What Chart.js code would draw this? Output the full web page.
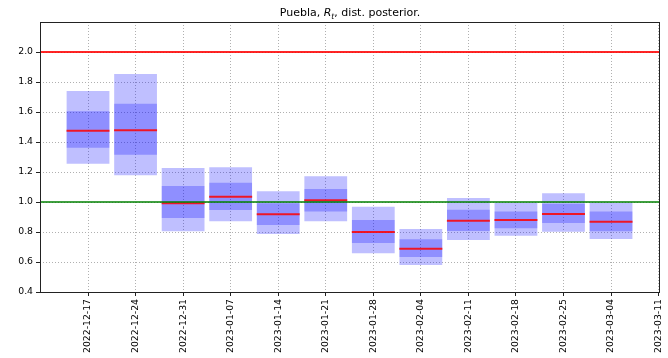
<!DOCTYPE html>
<html>
<head>
<meta charset="utf-8">
<title>Puebla Rt</title>
<script src="https://cdn.jsdelivr.net/npm/chart.js@4/dist/chart.umd.min.js"></script>
<style>
  body { margin: 0; background: #fff; }
  #wrap { width: 668px; height: 358px; }
</style>
</head>
<body>
<div id="wrap"><canvas id="myChart"></canvas></div>
<script>
// semanas (etiquetas del eje x)
const semanas = ['2022-12-17', '2022-12-24', '2022-12-31', '2023-01-07', '2023-01-14',
  '2023-01-21', '2023-01-28', '2023-02-04', '2023-02-11', '2023-02-18', '2023-02-25',
  '2023-03-04', '2023-03-11']

// cuantiles de la posterior de Rt por semana
const q05 = [1.255, 1.178, 0.805, 0.871, 0.787, 0.871, 0.658, 0.580, 0.747, 0.775, 0.802, 0.753]
const q25 = [1.362, 1.315, 0.893, 0.947, 0.847, 0.936, 0.727, 0.633, 0.807, 0.825, 0.860, 0.805]
const q50 = [1.475, 1.478, 0.991, 1.035, 0.918, 1.011, 0.800, 0.689, 0.875, 0.880, 0.920, 0.869]
const q75 = [1.605, 1.655, 1.107, 1.129, 0.991, 1.087, 0.880, 0.751, 0.949, 0.936, 0.989, 0.936]
const q95 = [1.740, 1.853, 1.227, 1.232, 1.071, 1.171, 0.969, 0.820, 1.027, 0.995, 1.058, 0.995]

const yTicks = [0.4, 0.6, 0.8, 1.0, 1.2, 1.4, 1.6, 1.8, 2.0, 2.2]

const xMin = -1.01
const xMax = 12.03

const canvas = document.getElementById('myChart')
const fuente = 'DejaVu Sans'

// titulo con R en italica y subindice t
const titulo = {
    id: 'titulo',
    afterDraw(chart) {
        const ctx = chart.ctx
        const area = chart.chartArea
        const partes = [
            {t: 'Puebla, ', f: `11px "${fuente}"`, dy: 0},
            {t: 'R', f: `italic 11px "${fuente}"`, dy: 0},
            {t: 't', f: `italic 7.7px "${fuente}"`, dy: 2.5},
            {t: ', dist. posterior.', f: `11px "${fuente}"`, dy: 0}
        ]
        ctx.save()
        let ancho = 0
        for (const p of partes) { ctx.font = p.f; ancho += ctx.measureText(p.t).width }
        let x = (area.left + area.right) / 2 - ancho / 2
        ctx.fillStyle = '#000'
        ctx.textBaseline = 'alphabetic'
        for (const p of partes) {
            ctx.font = p.f
            ctx.fillText(p.t, x, 16 + p.dy)
            x += ctx.measureText(p.t).width
        }
        ctx.restore()
    }
}

// marco alrededor del area de la grafica
const marco = {
    id: 'marco',
    afterDraw(chart) {
        const {left, top, right, bottom} = chart.chartArea
        const ctx = chart.ctx
        ctx.save()
        ctx.strokeStyle = '#222'
        ctx.lineWidth = 1
        ctx.strokeRect(left + 0.5, top + 0.5, right - left - 1, bottom - top)
        ctx.restore()
    }
}

const colorMarca = ctx => (ctx.tick && ctx.tick.value > 2.1 ? 'rgba(0,0,0,0)' : '#222')

const config = {
    type: 'bar',
    data: {
        datasets: [
            {
                label: '5-95',
                data: q05.map((v, i) => ({x: i, y: [v, q95[i]]})),
                backgroundColor: 'rgba(0, 0, 255, 0.25)',
                grouped: false,
                categoryPercentage: 1,
                barPercentage: 0.9,
                order: 6
            },
            {
                label: '25-75',
                data: q25.map((v, i) => ({x: i, y: [v, q75[i]]})),
                backgroundColor: 'rgba(0, 0, 255, 0.25)',
                grouped: false,
                categoryPercentage: 1,
                barPercentage: 0.9,
                order: 5
            },
            {
                type: 'line',
                label: 'Rt = 2',
                data: [{x: xMin, y: 2}, {x: xMax, y: 2}],
                borderColor: 'rgba(255, 0, 0, 0.85)',
                borderWidth: 2,
                pointRadius: 0,
                order: 4
            },
            {
                type: 'scatter',
                label: 'mediana',
                data: q50.map((v, i) => ({x: i, y: v})),
                pointStyle: 'line',
                pointRadius: 21.5,
                pointHoverRadius: 21.5,
                borderColor: 'rgba(255, 0, 0, 0.85)',
                borderWidth: 2,
                order: 3
            },
            {
                type: 'line',
                label: 'Rt = 1',
                data: [{x: xMin, y: 1}, {x: xMax, y: 1}],
                borderColor: 'rgba(0, 128, 0, 0.75)',
                borderWidth: 2,
                pointRadius: 0,
                order: 2
            }
        ]
    },
    options: {
        responsive: true,
        maintainAspectRatio: false,
        animation: false,
        layout: {
            autoPadding: false,
            padding: {top: 22, right: 8, left: 0, bottom: 0}
        },
        plugins: {
            legend: {display: false},
            tooltip: {enabled: false},
            title: {display: false}
        },
        scales: {
            x: {
                type: 'linear',
                min: xMin,
                max: xMax,
                offset: false,
                afterBuildTicks: axis => { axis.ticks = semanas.map((_, i) => ({value: i})) },
                afterFit: axis => {
                    axis.height = 66
                    axis.paddingLeft = 0
                    axis.paddingRight = 0
                },
                ticks: {
                    autoSkip: false,
                    minRotation: 90,
                    maxRotation: 90,
                    padding: 3,
                    color: '#000',
                    font: {family: fuente, size: 9.3},
                    callback: v => semanas[v]
                },
                grid: {
                    offset: false,
                    color: '#b0b0b0',
                    lineWidth: 1,
                    tickLength: 4,
                    tickColor: '#222',
                    tickBorderDash: []
                },
                border: {display: false, dash: [1, 2]}
            },
            y: {
                min: 0.4,
                max: 2.2,
                afterBuildTicks: axis => { axis.ticks = yTicks.map(v => ({value: v})) },
                afterFit: axis => {
                    axis.width = 40
                    axis.paddingTop = 0
                    axis.paddingBottom = 0
                },
                ticks: {
                    padding: 3,
                    color: '#000',
                    font: {family: fuente, size: 9.3},
                    callback: v => (v > 2.1 ? '' : v.toFixed(1))
                },
                grid: {
                    color: '#b0b0b0',
                    lineWidth: 1,
                    tickLength: 4,
                    tickColor: colorMarca,
                    tickBorderDash: []
                },
                border: {display: false, dash: [1, 2]}
            }
        }
    },
    plugins: [titulo, marco]
}

const myChart = new Chart(canvas, config)
</script>
</body>
</html>
